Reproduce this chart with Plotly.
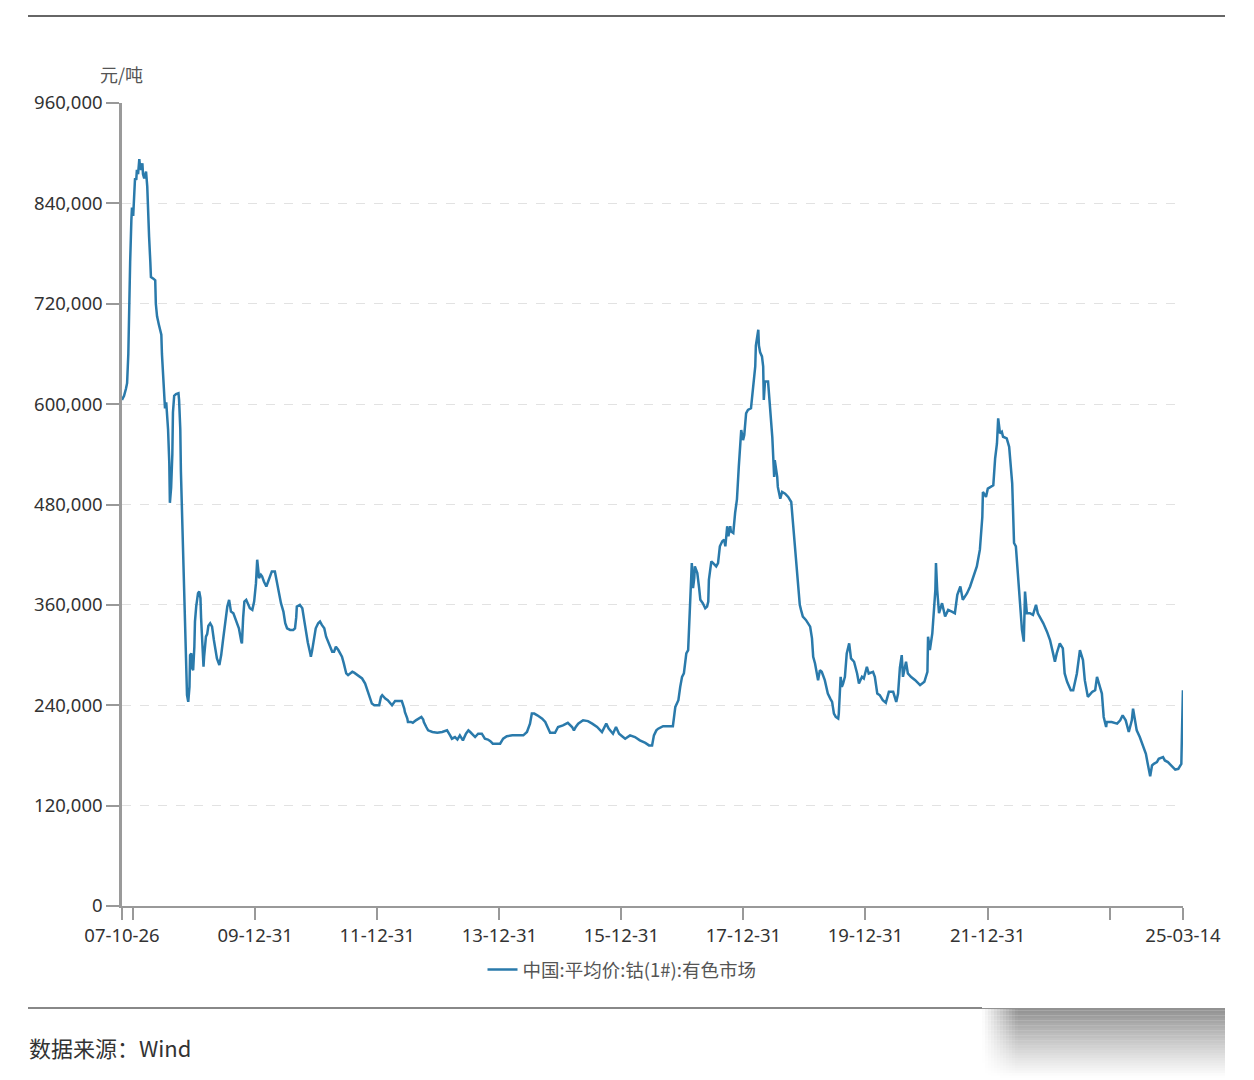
import plotly.graph_objects as go
from datetime import datetime, timedelta

# ---- data (decimal year, yuan per tonne) ----
YEAR = [
    2007.816, 2007.85, 2007.88, 2007.90, 2007.92, 2007.93, 2007.95, 2007.97, 2007.98, 2008.00,
    2008.01, 2008.03, 2008.05, 2008.06, 2008.08, 2008.10, 2008.11, 2008.13, 2008.15, 2008.16,
    2008.18, 2008.21, 2008.23, 2008.24, 2008.26, 2008.28, 2008.29, 2008.33, 2008.36, 2008.37,
    2008.39, 2008.42, 2008.46, 2008.47, 2008.49, 2008.51, 2008.52, 2008.54, 2008.55, 2008.57,
    2008.59, 2008.60, 2008.62, 2008.64, 2008.65, 2008.67, 2008.70, 2008.74, 2008.75, 2008.77,
    2008.78, 2008.80, 2008.82, 2008.83, 2008.85, 2008.87, 2008.88, 2008.90, 2008.92, 2008.93,
    2008.95, 2008.96, 2008.98, 2009.00, 2009.01, 2009.03, 2009.05, 2009.06, 2009.08, 2009.10,
    2009.11, 2009.13, 2009.15, 2009.16, 2009.18, 2009.19, 2009.21, 2009.23, 2009.26, 2009.29,
    2009.32, 2009.34, 2009.37, 2009.41, 2009.44, 2009.47, 2009.51, 2009.54, 2009.57, 2009.60,
    2009.64, 2009.67, 2009.70, 2009.73, 2009.77, 2009.78, 2009.80, 2009.82, 2009.85, 2009.88,
    2009.91, 2009.95, 2009.98, 2010.01, 2010.03, 2010.05, 2010.06, 2010.09, 2010.11, 2010.14,
    2010.18, 2010.21, 2010.24, 2010.27, 2010.32, 2010.36, 2010.39, 2010.42, 2010.46, 2010.49,
    2010.52, 2010.57, 2010.62, 2010.65, 2010.67, 2010.68, 2010.73, 2010.77, 2010.80, 2010.83,
    2010.86, 2010.90, 2010.91, 2010.93, 2010.96, 2010.99, 2011.03, 2011.06, 2011.09, 2011.13,
    2011.16, 2011.19, 2011.22, 2011.26, 2011.29, 2011.32, 2011.36, 2011.39, 2011.42, 2011.45,
    2011.49, 2011.52, 2011.55, 2011.59, 2011.62, 2011.67, 2011.72, 2011.75, 2011.80, 2011.85,
    2011.88, 2011.91, 2011.95, 2012.00, 2012.03, 2012.06, 2012.08, 2012.13, 2012.17, 2012.24,
    2012.29, 2012.34, 2012.40, 2012.44, 2012.45, 2012.49, 2012.50, 2012.55, 2012.58, 2012.63,
    2012.68, 2012.72, 2012.75, 2012.76, 2012.80, 2012.83, 2012.90, 2012.98, 2013.06, 2013.14,
    2013.19, 2013.22, 2013.27, 2013.31, 2013.35, 2013.40, 2013.45, 2013.49, 2013.52, 2013.55,
    2013.60, 2013.65, 2013.71, 2013.76, 2013.81, 2013.85, 2013.89, 2013.96, 2014.01, 2014.06,
    2014.12, 2014.21, 2014.29, 2014.39, 2014.45, 2014.50, 2014.53, 2014.57, 2014.62, 2014.67,
    2014.70, 2014.75, 2014.80, 2014.83, 2014.91, 2014.96, 2015.04, 2015.12, 2015.19, 2015.22,
    2015.25, 2015.29, 2015.37, 2015.45, 2015.52, 2015.60, 2015.68, 2015.75, 2015.79, 2015.86,
    2015.91, 2015.96, 2016.01, 2016.06, 2016.14, 2016.22, 2016.30, 2016.39, 2016.45, 2016.50,
    2016.53, 2016.57, 2016.60, 2016.68, 2016.76, 2016.84, 2016.88, 2016.93, 2016.96, 2016.99,
    2017.02, 2017.06, 2017.09, 2017.11, 2017.12, 2017.14, 2017.15, 2017.17, 2017.19, 2017.20,
    2017.22, 2017.24, 2017.27, 2017.29, 2017.33, 2017.37, 2017.40, 2017.42, 2017.43, 2017.47,
    2017.50, 2017.55, 2017.58, 2017.61, 2017.65, 2017.68, 2017.70, 2017.73, 2017.75, 2017.78,
    2017.79, 2017.83, 2017.86, 2017.89, 2017.92, 2017.94, 2017.96, 2017.99, 2018.01, 2018.04,
    2018.07, 2018.12, 2018.15, 2018.19, 2018.20, 2018.24, 2018.25, 2018.27, 2018.30, 2018.32,
    2018.33, 2018.35, 2018.40, 2018.43, 2018.47, 2018.50, 2018.51, 2018.55, 2018.56, 2018.60,
    2018.63, 2018.68, 2018.73, 2018.78, 2018.81, 2018.84, 2018.87, 2018.89, 2018.92, 2018.94,
    2018.97, 2019.02, 2019.05, 2019.09, 2019.12, 2019.14, 2019.17, 2019.20, 2019.22, 2019.25,
    2019.28, 2019.33, 2019.38, 2019.42, 2019.45, 2019.48, 2019.51, 2019.55, 2019.56, 2019.59,
    2019.61, 2019.63, 2019.66, 2019.69, 2019.73, 2019.76, 2019.78, 2019.81, 2019.86, 2019.89,
    2019.94, 2019.97, 2020.02, 2020.05, 2020.12, 2020.15, 2020.19, 2020.23, 2020.28, 2020.33,
    2020.38, 2020.45, 2020.50, 2020.53, 2020.56, 2020.59, 2020.61, 2020.66, 2020.69, 2020.74,
    2020.81, 2020.89, 2020.96, 2021.01, 2021.02, 2021.05, 2021.09, 2021.10, 2021.14, 2021.15,
    2021.17, 2021.20, 2021.25, 2021.30, 2021.35, 2021.41, 2021.46, 2021.50, 2021.55, 2021.59,
    2021.66, 2021.71, 2021.76, 2021.82, 2021.87, 2021.91, 2021.92, 2021.97, 2022.00, 2022.09,
    2022.12, 2022.15, 2022.17, 2022.20, 2022.23, 2022.25, 2022.31, 2022.35, 2022.40, 2022.43,
    2022.46, 2022.50, 2022.53, 2022.56, 2022.59, 2022.61, 2022.64, 2022.69, 2022.74, 2022.79,
    2022.82, 2022.87, 2022.91, 2022.97, 2023.02, 2023.07, 2023.10, 2023.13, 2023.18, 2023.23,
    2023.26, 2023.30, 2023.36, 2023.40, 2023.46, 2023.51, 2023.56, 2023.59, 2023.64, 2023.71,
    2023.76, 2023.79, 2023.84, 2023.87, 2023.90, 2023.94, 2023.95, 2024.03, 2024.12, 2024.17,
    2024.21, 2024.26, 2024.31, 2024.36, 2024.38, 2024.41, 2024.44, 2024.49, 2024.54, 2024.59,
    2024.62, 2024.66, 2024.69, 2024.72, 2024.77, 2024.80, 2024.87, 2024.90, 2024.95, 2025.02,
    2025.07, 2025.12, 2025.17, 2025.18, 2025.196,
]

PRICE = [
    605000, 610000, 618000, 625000, 660000, 720000, 770000, 820000, 835000, 825000,
    850000, 870000, 868000, 880000, 875000, 893000, 885000, 880000, 888000, 875000,
    870000, 878000, 860000, 830000, 800000, 770000, 752000, 750000, 748000, 720000,
    705000, 695000, 683000, 660000, 630000, 605000, 595000, 602000, 590000, 570000,
    530000, 482000, 500000, 540000, 590000, 610000, 612000, 613000, 605000, 570000,
    520000, 470000, 420000, 370000, 318000, 275000, 252000, 244000, 262000, 300000,
    302000, 285000, 282000, 310000, 340000, 358000, 370000, 374000, 376000, 368000,
    345000, 310000, 286000, 298000, 312000, 322000, 325000, 335000, 338000, 334000,
    318000, 310000, 296000, 288000, 300000, 318000, 340000, 358000, 366000, 352000,
    350000, 344000, 338000, 332000, 316000, 314000, 345000, 364000, 366000, 360000,
    356000, 354000, 364000, 386000, 414000, 400000, 392000, 396000, 394000, 388000,
    382000, 388000, 394000, 400000, 400000, 386000, 372000, 362000, 352000, 338000,
    332000, 330000, 330000, 332000, 345000, 358000, 360000, 356000, 342000, 325000,
    315000, 302000, 298000, 305000, 318000, 332000, 338000, 340000, 336000, 332000,
    322000, 316000, 310000, 304000, 304000, 310000, 306000, 302000, 298000, 290000,
    278000, 276000, 278000, 280000, 279000, 276000, 274000, 272000, 266000, 256000,
    250000, 242000, 240000, 240000, 240000, 250000, 252000, 248000, 246000, 240000,
    245000, 245000, 245000, 236000, 232000, 224000, 220000, 220000, 219000, 222000,
    224000, 226000, 223000, 220000, 214000, 210000, 208000, 207000, 208000, 210000,
    204000, 200000, 202000, 199000, 204000, 198000, 206000, 210000, 208000, 206000,
    202000, 206000, 206000, 200000, 199000, 197000, 194000, 194000, 194000, 200000,
    203000, 204000, 204000, 204000, 208000, 218000, 230000, 230000, 228000, 226000,
    224000, 220000, 212000, 207000, 207000, 214000, 216000, 219000, 214000, 210000,
    214000, 218000, 222000, 221000, 218000, 214000, 208000, 218000, 212000, 206000,
    214000, 206000, 203000, 200000, 204000, 202000, 198000, 195000, 192000, 192000,
    204000, 210000, 212000, 215000, 215000, 215000, 238000, 246000, 262000, 274000,
    278000, 302000, 306000, 340000, 374000, 395000, 410000, 380000, 392000, 406000,
    402000, 398000, 380000, 366000, 362000, 356000, 358000, 364000, 390000, 412000,
    410000, 406000, 410000, 430000, 436000, 438000, 430000, 454000, 442000, 454000,
    448000, 446000, 470000, 486000, 525000, 550000, 569000, 557000, 563000, 589000,
    593000, 595000, 621000, 645000, 670000, 689000, 670000, 662000, 657000, 645000,
    605000, 627000, 627000, 597000, 560000, 513000, 533000, 513000, 501000, 487000,
    495000, 493000, 489000, 483000, 455000, 430000, 410000, 386000, 360000, 354000,
    346000, 342000, 338000, 334000, 320000, 298000, 290000, 276000, 270000, 282000,
    280000, 270000, 254000, 248000, 244000, 230000, 226000, 224000, 230000, 274000,
    262000, 266000, 274000, 302000, 314000, 296000, 294000, 292000, 278000, 266000,
    274000, 272000, 286000, 278000, 280000, 274000, 254000, 252000, 246000, 243000,
    256000, 256000, 244000, 254000, 285000, 300000, 274000, 292000, 278000, 274000,
    270000, 264000, 268000, 280000, 322000, 306000, 326000, 338000, 378000, 410000,
    378000, 350000, 362000, 346000, 354000, 352000, 350000, 372000, 382000, 366000,
    374000, 382000, 392000, 406000, 426000, 465000, 495000, 489000, 499000, 503000,
    535000, 553000, 583000, 565000, 567000, 561000, 559000, 549000, 505000, 434000,
    430000, 394000, 356000, 330000, 316000, 376000, 350000, 350000, 348000, 360000,
    350000, 344000, 338000, 328000, 318000, 302000, 292000, 302000, 314000, 308000,
    278000, 268000, 258000, 258000, 278000, 306000, 294000, 270000, 250000, 256000,
    258000, 274000, 262000, 254000, 226000, 214000, 220000, 220000, 218000, 222000,
    228000, 222000, 208000, 222000, 236000, 222000, 210000, 202000, 192000, 182000,
    170000, 155000, 168000, 170000, 172000, 176000, 178000, 174000, 172000, 166000,
    163000, 164000, 170000, 206000, 258000,
]

SERIES_NAME = "中国:平均价:钴(1#):有色市场"
Y_UNIT = "元/吨"
SOURCE = "数据来源：Wind"
Y_TICKS = [0, 120000, 240000, 360000, 480000, 600000, 720000, 840000, 960000]
X_TICK_DATES = ["2007-10-26", "2007-12-31", "2009-12-31", "2011-12-31", "2013-12-31",
                "2015-12-31", "2017-12-31", "2019-12-31", "2021-12-31", "2023-12-31",
                "2025-03-14"]
X_TICK_TEXT = ["07-10-26", "", "09-12-31", "11-12-31", "13-12-31",
               "15-12-31", "17-12-31", "19-12-31", "21-12-31", "", "25-03-14"]


def dec_to_date(y):
    yr = int(y)
    start = datetime(yr, 1, 1)
    ndays = (datetime(yr + 1, 1, 1) - start).days
    return start + timedelta(days=(y - yr) * ndays)


dates = [dec_to_date(y) for y in YEAR]

W, H = 1254, 1080
L, R, T, B = 122, 71, 103, 174
pw, ph = W - L - R, H - T - B


def px(xp):
    return (xp - L) / pw


def py(yp):
    return (H - B - yp) / ph


LINE_COLOR = "#2a7aab"

fig = go.Figure()
fig.add_trace(go.Scatter(
    x=dates, y=PRICE, mode="lines", name=SERIES_NAME,
    line=dict(color=LINE_COLOR, width=2.5),
))

tick_font = dict(family="Noto Sans, sans-serif", size=18.5, color="#333333")

fig.update_layout(
    width=W, height=H,
    margin=dict(l=L, r=R, t=T, b=B, pad=0),
    paper_bgcolor="white", plot_bgcolor="white",
    showlegend=True,
    legend=dict(
        orientation="h", x=px(622), y=py(970), xanchor="center", yanchor="middle",
        font=dict(family="Noto Sans CJK SC, sans-serif", size=18.5, color="#555555"),
        bgcolor="rgba(0,0,0,0)",
    ),
    xaxis=dict(
        type="date",
        range=["2007-10-26", "2025-03-14"],
        tickmode="array", tickvals=X_TICK_DATES, ticktext=X_TICK_TEXT,
        ticks="outside", ticklen=12, tickwidth=1.5, tickcolor="#999999",
        showline=True, linecolor="#999999", linewidth=1.5,
        showgrid=False, zeroline=False,
        tickfont=tick_font,
    ),
    yaxis=dict(
        range=[0, 960000],
        tickmode="array", tickvals=Y_TICKS, tickformat=",d",
        ticks="outside", ticklen=13, tickwidth=1.5, tickcolor="#999999",
        showline=True, linecolor="#9a9a9a", linewidth=2.5,
        showgrid=True, gridcolor="#e2e2e2", griddash="dash", gridwidth=1,
        zeroline=False,
        tickfont=tick_font,
    ),
)

shapes = []
# top rule
shapes.append(dict(type="line", xref="paper", yref="paper",
                   x0=px(28), x1=px(1225), y0=py(16), y1=py(16),
                   line=dict(color="#666666", width=2)))
# bottom rule
shapes.append(dict(type="line", xref="paper", yref="paper",
                   x0=px(28), x1=px(982), y0=py(1008), y1=py(1008),
                   line=dict(color="#888888", width=2)))
# grey shaded block bottom-right (fades downwards and to the left)
bx0, bx1, by0, by1 = 982, 1225, 1008, 1078
rows = 28
for i in range(rows):
    ya = by0 + (by1 - by0) * i / rows
    yb = by0 + (by1 - by0) * (i + 1) / rows
    a = 0.72 * (1 - (i + 0.5) / rows) ** 1.1
    shapes.append(dict(type="rect", xref="paper", yref="paper",
                       x0=px(bx0), x1=px(bx1), y0=py(yb), y1=py(ya),
                       line=dict(width=0), fillcolor=f"rgba(100,100,100,{a:.3f})",
                       layer="above"))
cols = 12
fade_w = 36
for j in range(cols):
    xa = bx0 + fade_w * j / cols
    xb = bx0 + fade_w * (j + 1) / cols
    a = 1 - (j + 0.5) / cols
    shapes.append(dict(type="rect", xref="paper", yref="paper",
                       x0=px(xa), x1=px(xb), y0=py(by1), y1=py(by0 + 1),
                       line=dict(width=0), fillcolor=f"rgba(255,255,255,{a:.3f})",
                       layer="above"))
fig.update_layout(shapes=shapes)

fig.add_annotation(xref="paper", yref="paper", x=px(121), y=py(74),
                   text=Y_UNIT, showarrow=False, xanchor="center", yanchor="middle",
                   font=dict(family="Noto Sans CJK SC, sans-serif", size=18, color="#555555"))
fig.add_annotation(xref="paper", yref="paper", x=px(27), y=py(1047),
                   text=SOURCE, showarrow=False, xanchor="left", yanchor="middle",
                   font=dict(family="Noto Sans CJK SC, sans-serif", size=22, color="#333333"))

fig.write_html("out.html")
